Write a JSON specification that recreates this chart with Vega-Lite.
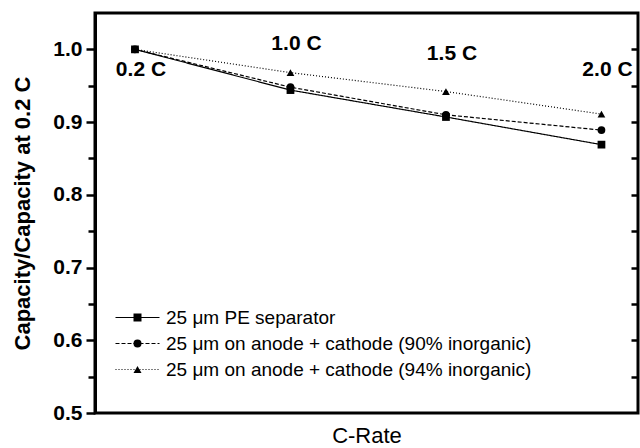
{
  "$schema": "https://vega.github.io/schema/vega-lite/v6.json",
  "width": 543,
  "height": 400,
  "autosize": {"type": "none"},
  "padding": {"left": 95, "top": 13, "right": 2, "bottom": 35},
  "config": {
    "font": "Liberation Sans",
    "view": {"stroke": "black", "strokeWidth": 3},
    "axis": {"domainColor": "black", "domainWidth": 3, "tickColor": "black", "tickWidth": 2.5, "labelColor": "black", "titleColor": "black", "grid": false}
  },
  "datasets": {
    "pts": [
      {"i": 0, "rate": "0.2 C", "series": "25 μm PE separator", "value": 1.0},
      {"i": 1, "rate": "1.0 C", "series": "25 μm PE separator", "value": 0.944},
      {"i": 2, "rate": "1.5 C", "series": "25 μm PE separator", "value": 0.907},
      {"i": 3, "rate": "2.0 C", "series": "25 μm PE separator", "value": 0.869},
      {"i": 0, "rate": "0.2 C", "series": "25 μm on anode + cathode (90% inorganic)", "value": 1.0},
      {"i": 1, "rate": "1.0 C", "series": "25 μm on anode + cathode (90% inorganic)", "value": 0.948},
      {"i": 2, "rate": "1.5 C", "series": "25 μm on anode + cathode (90% inorganic)", "value": 0.910},
      {"i": 3, "rate": "2.0 C", "series": "25 μm on anode + cathode (90% inorganic)", "value": 0.889},
      {"i": 0, "rate": "0.2 C", "series": "25 μm on anode + cathode (94% inorganic)", "value": 1.0},
      {"i": 1, "rate": "1.0 C", "series": "25 μm on anode + cathode (94% inorganic)", "value": 0.968},
      {"i": 2, "rate": "1.5 C", "series": "25 μm on anode + cathode (94% inorganic)", "value": 0.942},
      {"i": 3, "rate": "2.0 C", "series": "25 μm on anode + cathode (94% inorganic)", "value": 0.911}
    ],
    "labels": [
      {"i": 0, "label": "0.2 C", "ly": 0.971},
      {"i": 1, "label": "1.0 C", "ly": 1.007},
      {"i": 2, "label": "1.5 C", "ly": 0.994},
      {"i": 3, "label": "2.0 C", "ly": 0.971}
    ]
  },
  "encoding": {
    "x": {"field": "i", "type": "quantitative", "scale": {"domain": [-0.257, 3.235]},
      "axis": {"title": "C-Rate", "labels": false, "ticks": false, "domain": false, "titleFontSize": 22, "titleFontWeight": "normal", "titlePadding": 12}}
  },
  "layer": [
    {
      "data": {"name": "pts"},
      "mark": {"type": "line", "color": "black", "strokeWidth": 1.2},
      "encoding": {
        "y": {"field": "value", "type": "quantitative", "scale": {"domain": [0.5, 1.05]},
          "axis": {"orient": "left", "values": [0.5, 0.55, 0.6, 0.65, 0.7, 0.75, 0.8, 0.85, 0.9, 0.95, 1.0],
            "labelExpr": "round(datum.value*20)%2==0 ? format(datum.value,'.1f') : ''",
            "tickSize": {"condition": {"test": "round(datum.value*20)%2==0", "value": 9}, "value": 7},
            "labelFontSize": 21, "labelFontWeight": "bold", "labelPadding": 4,
            "title": "Capacity/Capacity at 0.2 C", "titleFontSize": 22, "titleFontWeight": "bold", "titlePadding": 18}},
        "strokeDash": {"field": "series", "type": "nominal",
          "scale": {"domain": ["25 μm PE separator", "25 μm on anode + cathode (90% inorganic)", "25 μm on anode + cathode (94% inorganic)"], "range": [[1, 0], [4, 2], [1, 2]]},
          "legend": {"orient": "none", "legendX": 33, "legendY": 295, "title": null, "labelFontSize": 19, "labelColor": "black", "labelLimit": 0,
            "symbolType": "M-5.5,0L5.5,0", "symbolSize": 64, "symbolStrokeWidth": 1.2, "symbolStrokeColor": "black",
            "labelOffset": 19, "rowPadding": 6, "padding": 0}}
      }
    },
    {
      "data": {"name": "pts"},
      "mark": {"type": "point", "filled": true, "color": "black", "opacity": 1, "size": 60},
      "encoding": {
        "y": {"field": "value", "type": "quantitative", "scale": {"domain": [0.5, 1.05]},
          "axis": {"orient": "right", "values": [0.55, 0.6, 0.65, 0.7, 0.75, 0.8, 0.85, 0.9, 0.95, 1.0], "labels": false, "ticks": true, "tickSize": 7, "tickWidth": 2.5, "offset": -7, "domain": false, "title": null, "zindex": 1}},
        "shape": {"field": "series", "type": "nominal",
          "scale": {"domain": ["25 μm PE separator", "25 μm on anode + cathode (94% inorganic)", "25 μm on anode + cathode (90% inorganic)"], "range": ["square", "triangle-up", "circle"]},
          "legend": {"orient": "none", "legendX": 33, "legendY": 295, "title": null, "labelFontSize": 19, "labelOpacity": 0, "labelLimit": 0,
            "values": ["25 μm PE separator", "25 μm on anode + cathode (90% inorganic)", "25 μm on anode + cathode (94% inorganic)"],
            "symbolSize": 64, "symbolFillColor": "black", "symbolStrokeColor": "black", "symbolOpacity": 1,
            "labelOffset": 19, "rowPadding": 6, "padding": 0}}
      }
    },
    {
      "data": {"name": "labels"},
      "mark": {"type": "text", "fontSize": 21, "fontWeight": "bold", "dx": 6, "color": "black"},
      "encoding": {
        "y": {"field": "ly", "type": "quantitative", "scale": {"domain": [0.5, 1.05]}, "axis": null},
        "text": {"field": "label"}
      }
    }
  ],
  "resolve": {"axis": {"y": "independent"}}
}
